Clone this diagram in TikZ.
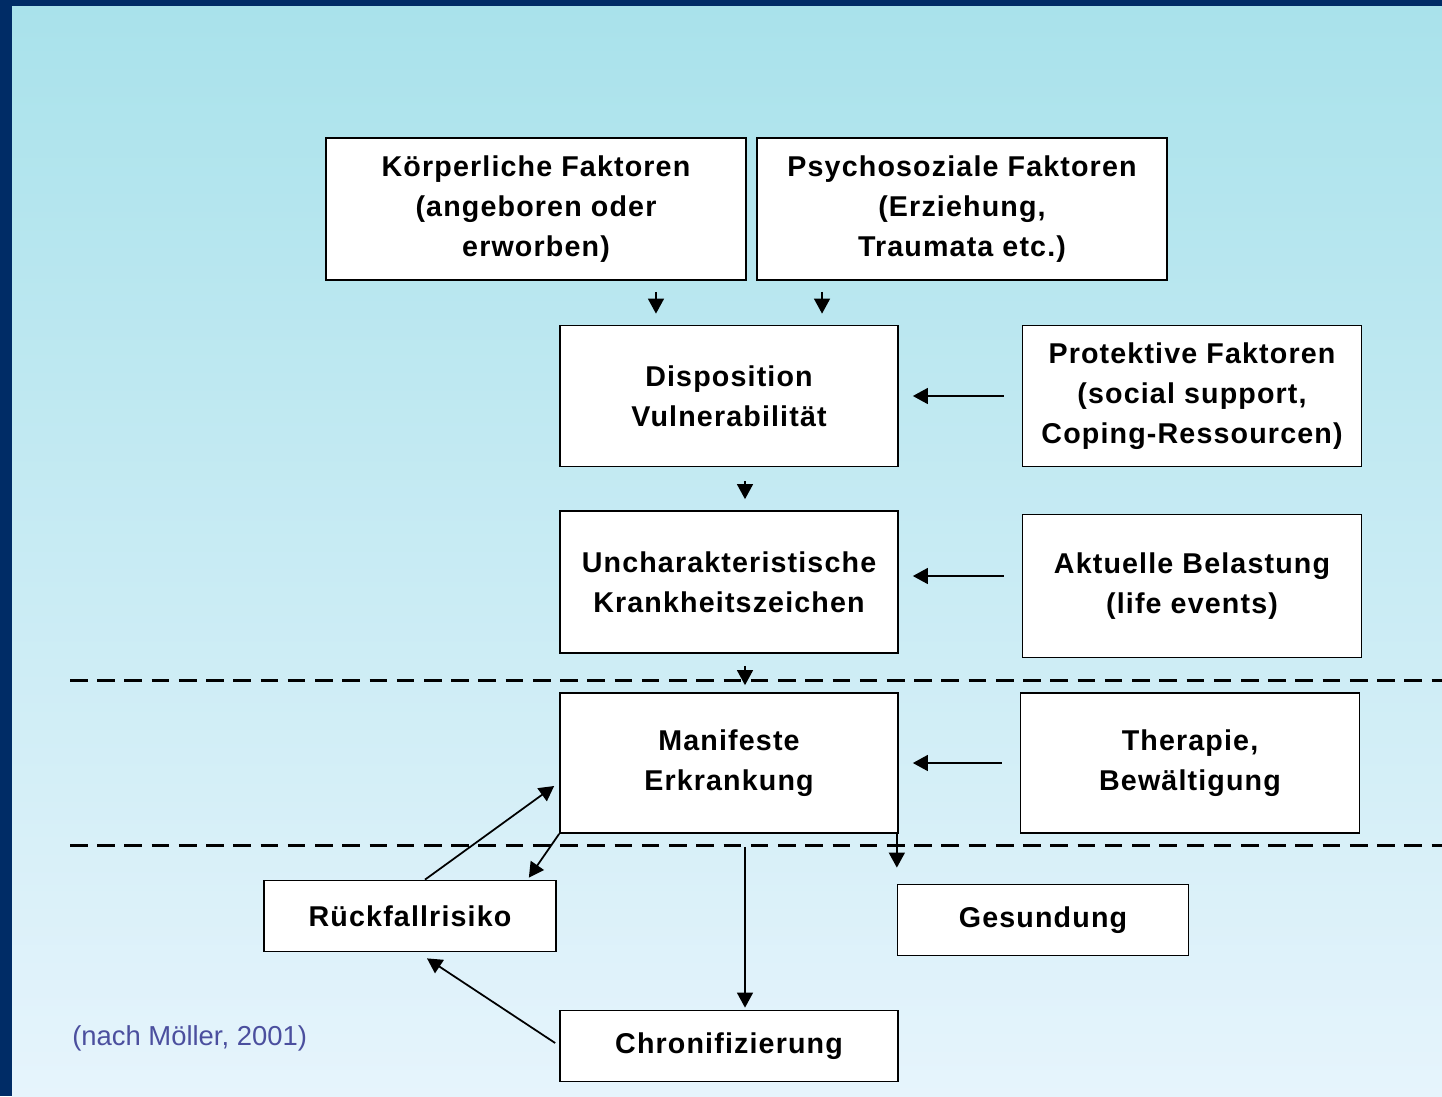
\documentclass[tikz,border=0pt]{standalone}
\usepackage{fontspec}
\setmainfont{Liberation Sans}
\newfontfamily\vsfont{Liberation Sans}[LetterSpace=4]
\usetikzlibrary{arrows.meta,positioning,calc}
\definecolor{vsnavy}{HTML}{002C66}
\definecolor{vstop}{HTML}{A9E2EB}
\definecolor{vsbottom}{HTML}{E6F4FC}
\definecolor{vscite}{HTML}{4B4F9E}
\tikzset{
  vsbox/.style={
    rectangle, draw=black, fill=white, line width=1pt,
    inner sep=0pt, align=center, font=\vsfont\bfseries\fontsize{16.3}{22.8}\selectfont
  },
  vsedge/.style={-{Triangle[width=9pt,length=8.5pt]},line width=1pt},
  vsline/.style={line width=1.7pt,dash pattern=on 10pt off 5.5pt},
  vsnote/.style={font=\fontsize{15.6}{18}\selectfont,text=vscite,anchor=west,inner sep=0pt}
}
\begin{document}
\begin{tikzpicture}[x=0.02cm,y=-0.02cm]
  \useasboundingbox (0,0) rectangle (1442,1096);
  \fill[vsnavy] (0,0) rectangle (1442,1096);
  \shade[top color=vstop,bottom color=vsbottom] (12,6) rectangle (1442,1096);

  \draw[vsline] (70,680) -- (1442,680);
  \draw[vsline] (70,845) -- (1442,845);

  \node[vsbox,minimum width=8.4cm,minimum height=2.84cm] (koerper) at (536,209)
    {Körperliche Faktoren\\(angeboren oder\\erworben)};
  \node[vsbox,minimum width=8.2cm,minimum height=2.84cm] (psycho) at (962,209)
    {Psychosoziale Faktoren\\(Erziehung,\\Traumata etc.)};
  \node[vsbox,minimum width=6.76cm,minimum height=2.82cm] (dispo) at (729,396)
    {Disposition\\Vulnerabilität};
  \node[vsbox,minimum width=6.78cm,minimum height=2.82cm] (protekt) at (1192,396)
    {Protektive Faktoren\\(social support,\\Coping-Ressourcen)};
  \node[vsbox,minimum width=6.76cm,minimum height=2.84cm] (unchar) at (729,582)
    {Uncharakteristische\\Krankheitszeichen};
  \node[vsbox,minimum width=6.78cm,minimum height=2.86cm] (aktuell) at (1192,586)
    {Aktuelle Belastung\\(life events)};
  \node[vsbox,minimum width=6.76cm,minimum height=2.8cm] (manif) at (729,763)
    {Manifeste\\Erkrankung};
  \node[vsbox,minimum width=6.78cm,minimum height=2.8cm] (therapie) at (1190,763)
    {Therapie,\\Bewältigung};
  \node[vsbox,minimum width=5.84cm,minimum height=1.42cm] (rueck) at (410,916)
    {Rückfallrisiko};
  \node[vsbox,minimum width=5.82cm,minimum height=1.42cm] (gesund) at (1043,920)
    {Gesundung};
  \node[vsbox,minimum width=6.76cm,minimum height=1.42cm] (chron) at (729,1046)
    {Chronifizierung};
  \node[vsnote] (cite) at (72,1038) {(nach Möller, 2001)};

  \draw[vsedge,shorten <=0.22cm,shorten >=0.22cm] ([xshift=2.4cm]koerper.south)
    -- ([xshift=2.4cm]koerper.south |- dispo.north);
  \draw[vsedge,shorten <=0.22cm,shorten >=0.22cm] ([xshift=-2.8cm]psycho.south)
    -- ([xshift=-2.8cm]psycho.south |- dispo.north);
  \draw[vsedge,shorten <=0.28cm,shorten >=0.22cm] ([xshift=0.32cm]dispo.south)
    -- ([xshift=0.32cm]dispo.south |- unchar.north);
  \draw[vsedge,shorten <=0.24cm,shorten >=0.14cm] ([xshift=0.32cm]unchar.south)
    -- ([xshift=0.32cm]unchar.south |- manif.north);
  \draw[vsedge,shorten <=0.36cm,shorten >=0.28cm] (protekt.west) -- (dispo.east);
  \draw[vsedge,shorten <=0.36cm,shorten >=0.28cm] ([yshift=0.2cm]aktuell.west)
    -- ([yshift=0.2cm]aktuell.west -| unchar.east);
  \draw[vsedge,shorten <=0.36cm,shorten >=0.28cm] (therapie.west) -- (manif.east);
  \draw[vsedge,shorten <=0.26cm,shorten >=0.04cm] ([xshift=0.32cm]manif.south)
    -- ([xshift=0.32cm]manif.south |- chron.north);
  \draw[vsedge,shorten >=0.32cm] ([xshift=-0.04cm]manif.south east)
    -- ([xshift=-0.04cm]manif.south east |- gesund.north);
  \draw[vsedge] ([xshift=0.3cm]rueck.north) -- ([xshift=-0.1cm,yshift=-0.46cm]manif.west);
  \draw[vsedge] (manif.south west) -- ([xshift=-0.56cm,yshift=0.04cm]rueck.north east);
  \draw[vsedge] ([xshift=-0.08cm,yshift=0.06cm]chron.west)
    -- ([xshift=0.34cm,yshift=-0.12cm]rueck.south);
\end{tikzpicture}
\end{document}
